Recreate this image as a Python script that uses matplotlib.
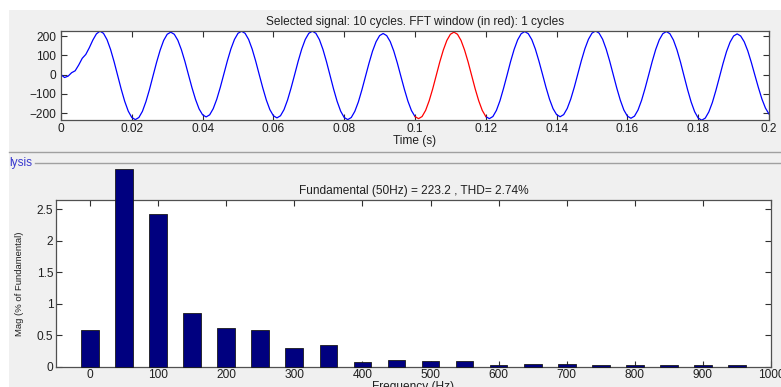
import numpy as np
import matplotlib
matplotlib.use("Agg")
import matplotlib.pyplot as plt
from matplotlib.lines import Line2D
from matplotlib.patches import Rectangle

# ---------------- data ----------------
# time samples of the selected signal (1 ms spacing, 0 .. 0.2 s)
time_s = np.linspace(0.0, 0.2, 201)
signal = [
    # 0.000 .. 0.011 (start-up)
    0, -15, -8, 10, 20, 50, 85, 105, 140, 180, 212, 226,
    # 0.012 .. 0.021
    215, 182, 131, 67, -4, -75, -139, -190, -223, -234,
    # 0.022 .. 0.031
    -223, -191, -140, -77, -6, 64, 127, 178, 210, 221,
    # 0.032 .. 0.041
    210, 179, 130, 69, 0, -68, -129, -178, -209, -220,
    # 0.042 .. 0.051
    -209, -177, -128, -66, 3, 72, 134, 183, 215, 226,
    # 0.052 .. 0.061
    215, 183, 133, 70, 0, -69, -132, -182, -214, -225,
    # 0.062 .. 0.071
    -214, -182, -132, -69, 0, 70, 133, 183, 215, 226,
    # 0.072 .. 0.081
    215, 182, 131, 67, -4, -75, -139, -190, -223, -234,
    # 0.082 .. 0.091
    -223, -191, -142, -79, -10, 59, 122, 171, 203, 214,
    # 0.092 .. 0.101
    203, 172, 123, 61, -8, -76, -138, -187, -218, -229,
    # 0.102 .. 0.111
    -218, -186, -136, -74, -4, 66, 128, 178, 210, 221,
    # 0.112 .. 0.121
    210, 178, 128, 66, -4, -74, -136, -186, -218, -229,
    # 0.122 .. 0.131
    -218, -186, -136, -72, -3, 68, 131, 181, 213, 224,
    # 0.132 .. 0.141
    213, 182, 133, 71, 3, -66, -128, -177, -208, -219,
    # 0.142 .. 0.151
    -208, -176, -127, -65, 4, 73, 135, 184, 216, 227,
    # 0.152 .. 0.161
    216, 184, 133, 70, 0, -70, -133, -184, -216, -227,
    # 0.162 .. 0.171
    -216, -184, -134, -71, -2, 68, 131, 181, 213, 224,
    # 0.172 .. 0.181
    213, 180, 129, 65, -7, -78, -142, -193, -226, -237,
    # 0.182 .. 0.191
    -226, -194, -145, -82, -13, 57, 120, 169, 201, 212,
    # 0.192 .. 0.200
    201, 171, 124, 64, -2, -67, -127, -174, -205,
]
fft_window = (0.1, 0.12)

harm_freq = [0, 50, 100, 150, 200, 250, 300, 350, 400, 450,
             500, 550, 600, 650, 700, 750, 800, 850, 900, 950]
harm_mag = [0.59, 3.15, 2.42, 0.86, 0.61, 0.58, 0.29, 0.35, 0.075, 0.10,
            0.085, 0.085, 0.02, 0.043, 0.043, 0.032, 0.032, 0.027, 0.032, 0.03]

top_title = "Selected signal: 10 cycles. FFT window (in red): 1 cycles"
bottom_title = "Fundamental (50Hz) = 223.2 , THD= 2.74%"
time_ticks = [0, 0.02, 0.04, 0.06, 0.08, 0.1, 0.12, 0.14, 0.16, 0.18, 0.2]
time_ticklabels = ["0", "0.02", "0.04", "0.06", "0.08", "0.1", "0.12",
                   "0.14", "0.16", "0.18", "0.2"]
sig_ticks = [-200, -100, 0, 100, 200]
freq_ticks = [0, 100, 200, 300, 400, 500, 600, 700, 800, 900, 1000]
mag_ticks = [0, 0.5, 1, 1.5, 2, 2.5]
mag_ticklabels = ["0", "0.5", "1", "1.5", "2", "2.5"]

# ---------------- style ----------------
FS = 8.6
plt.rcParams['font.family'] = ['Liberation Sans', 'DejaVu Sans']
plt.rcParams['font.size'] = FS
W, H = 781, 387
fig = plt.figure(figsize=(W / 100, H / 100), dpi=100, facecolor='white')

GRAY = '#f0f0f0'
fig.add_artist(Rectangle((9 / W, 0), 1 - 9 / W, (H - 10) / H,
                         transform=fig.transFigure, facecolor=GRAY,
                         edgecolor='none', zorder=-10))


def fx(px):
    return px / W


def fy(py):
    return 1 - py / H


# group-box lines
fig.add_artist(Line2D([fx(9), 1], [fy(152.3), fy(152.3)],
                      transform=fig.transFigure, color='#a0a0a0', lw=1))
fig.add_artist(Line2D([fx(35), 1], [fy(163.3), fy(163.3)],
                      transform=fig.transFigure, color='#a0a0a0', lw=1))
fig.text(fx(9), fy(163.3), "lysis", color='#3a3ad0', fontsize=FS,
         ha='left', va='center')

TXT = '#202020'


def style_axes(ax, ypad):
    for s in ax.spines.values():
        s.set_color('#505050')
        s.set_linewidth(0.9)
    ax.tick_params(direction='in', length=4, width=0.8, color='#303030',
                   top=True, right=True, labelcolor=TXT, labelsize=FS)
    ax.tick_params(axis='x', pad=2)
    ax.tick_params(axis='y', pad=ypad)


# ---------------- top axes ----------------
ax1 = fig.add_axes([fx(61), fy(120), fx(769) - fx(61), (120 - 31) / H])
t = np.asarray(time_s)
y = np.asarray(signal, dtype=float)
before = t <= fft_window[0] + 1e-9
inside = (t >= fft_window[0] - 1e-9) & (t <= fft_window[1] + 1e-9)
after = t >= fft_window[1] - 1e-9
ax1.plot(t[before], y[before], color='#0000ff', lw=0.9)
ax1.plot(t[after], y[after], color='#0000ff', lw=0.9)
ax1.plot(t[inside], y[inside], color='#ff0000', lw=0.9)
ax1.set_xlim(0, 0.2)
ax1.set_ylim(-236, 227)
ax1.set_xticks(time_ticks)
ax1.set_xticklabels(time_ticklabels)
ax1.set_yticks(sig_ticks)
ax1.set_title(top_title, fontsize=FS, pad=4, color=TXT)
ax1.set_xlabel("Time (s)", fontsize=FS, labelpad=0, color=TXT)
style_axes(ax1, 3.5)

# ---------------- bottom axes ----------------
ax2 = fig.add_axes([fx(56), fy(366.7), fx(771) - fx(56), (366.7 - 200) / H])
ax2.bar(harm_freq, harm_mag, width=26, color='#00007f', edgecolor='#1a1a1a',
        linewidth=0.6, clip_on=False, zorder=3)
ax2.set_xlim(-50, 1000)
ax2.set_ylim(0, 2.65)
ax2.set_xticks(freq_ticks)
ax2.set_yticks(mag_ticks)
ax2.set_yticklabels(mag_ticklabels)
ax2.set_title(bottom_title, fontsize=FS, pad=4, color=TXT)
ax2.set_xlabel("Frequency (Hz)", fontsize=FS, labelpad=0, color=TXT)
ax2.set_ylabel("Mag (% of Fundamental)", fontsize=6.8, labelpad=9,
               color=TXT)
style_axes(ax2, 2)

fig.savefig("out.png", dpi=100, facecolor=fig.get_facecolor())
